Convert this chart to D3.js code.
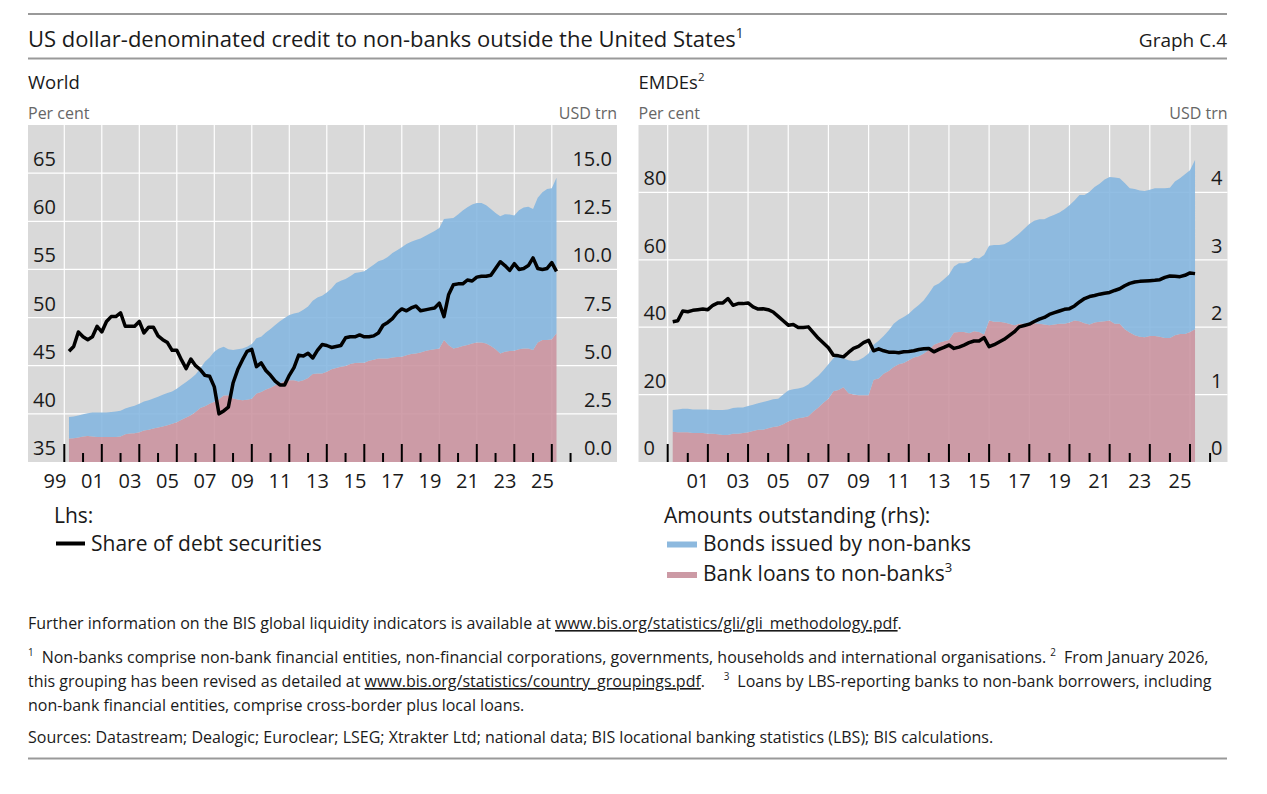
<!DOCTYPE html>
<html><head><meta charset="utf-8">
<script src="https://cdn.jsdelivr.net/npm/d3@7"></script>
<style>
body{margin:0;background:#fff}
svg{display:block}
text{font-family:"Open Sans","Noto Sans",sans-serif}
</style>
</head><body>
<svg id="chart" width="1267" height="794"></svg>
<script>
// ---------------- DATA (quarterly, first observation Q1 2000) ----------------
const firstYear = 2000;

// World: share of debt securities (per cent, lhs)
const worldShare = [46.5,47.0,48.5,48.0,47.7,48.0,49.1,48.5,49.6,50.1,50.1,50.5,49.1,49.1,49.1,49.6,
48.4,49.0,49.0,48.1,47.7,47.4,46.6,46.6,45.6,44.7,45.7,45.0,44.6,44.0,43.9,42.8,
40.0,40.3,40.7,43.2,44.6,45.6,46.5,46.7,44.9,45.3,44.5,44.0,43.4,43.0,43.0,44.0,
44.8,46.1,46.0,46.3,45.8,46.6,47.2,47.1,46.9,47.0,47.1,47.9,48.0,48.0,48.2,48.0,
48.0,48.1,48.4,49.2,49.5,49.9,50.5,50.9,50.7,51.0,51.2,50.7,50.8,50.9,51.0,51.5,
50.1,52.4,53.4,53.5,53.5,53.9,53.8,54.2,54.3,54.3,54.4,55.1,55.8,55.4,54.9,55.6,
55.0,55.1,55.4,56.2,55.1,55.0,55.1,55.7,54.8];
// World: bonds issued by non-banks (USD trn, rhs)
const worldBonds = [1.12,1.13,1.14,1.16,1.18,1.25,1.27,1.27,1.27,1.29,1.32,1.34,1.34,1.37,1.43,1.47,
1.51,1.53,1.56,1.60,1.65,1.67,1.68,1.73,1.78,1.84,1.91,1.95,2.06,2.31,2.41,2.60,
2.63,2.54,2.38,2.52,2.60,2.69,2.76,2.85,2.86,2.88,2.95,3.06,3.13,3.23,3.28,3.39,
3.46,3.58,3.65,3.71,3.80,3.94,4.03,4.11,4.20,4.41,4.46,4.52,4.55,4.67,4.70,4.74,
4.81,4.93,5.04,5.12,5.26,5.42,5.54,5.68,5.78,5.83,5.90,5.92,5.98,6.04,6.15,6.26,
6.28,6.58,6.77,6.90,7.04,7.15,7.21,7.25,7.25,7.17,7.12,7.08,7.12,7.13,7.09,7.02,
7.22,7.32,7.36,7.32,7.52,7.67,7.84,7.85,8.08];
// World: bank loans to non-banks (USD trn, rhs)
const worldLoans = [1.22,1.23,1.27,1.32,1.35,1.32,1.30,1.30,1.30,1.30,1.30,1.32,1.44,1.48,1.49,1.55,
1.63,1.68,1.74,1.79,1.84,1.91,1.98,2.07,2.20,2.31,2.43,2.60,2.80,2.90,3.02,3.13,
3.26,3.45,3.47,3.30,3.25,3.21,3.23,3.28,3.56,3.63,3.77,3.85,3.99,4.08,4.20,4.25,
4.25,4.18,4.25,4.36,4.57,4.60,4.60,4.69,4.81,4.88,4.95,4.98,5.09,5.14,5.16,5.16,
5.26,5.31,5.38,5.38,5.38,5.43,5.45,5.47,5.54,5.61,5.63,5.69,5.76,5.82,5.85,5.89,
6.34,6.06,5.90,5.95,6.02,6.08,6.16,6.20,6.20,6.16,6.02,5.85,5.64,5.73,5.76,5.78,
5.85,5.89,5.89,5.82,6.20,6.34,6.34,6.37,6.68];

// EMDEs: share of debt securities (per cent, lhs)
const emdeShare = [41.6,41.9,44.8,44.6,45.0,45.2,45.4,45.2,46.5,47.2,47.2,48.5,46.5,47.0,47.0,47.2,
46.0,45.4,45.5,45.2,44.5,43.2,41.9,40.6,40.8,39.9,39.9,40.1,38.4,36.7,35.3,33.9,
31.7,31.5,31.2,32.5,33.7,34.3,35.4,36.1,33.0,33.6,33.0,32.6,32.6,32.4,32.7,32.8,
33.0,33.4,33.6,33.7,32.7,33.4,34.0,34.7,33.7,34.1,34.7,35.4,35.9,35.9,36.9,34.2,
34.8,35.6,36.4,37.5,38.6,40.1,40.5,40.9,41.7,42.4,42.9,43.8,44.3,44.8,45.3,45.5,
46.3,47.5,48.5,49.1,49.4,49.8,50.1,50.3,50.9,51.4,52.3,53.0,53.4,53.6,53.7,53.8,
53.9,54.1,54.8,55.2,55.1,55.0,55.4,56.1,55.9];
// EMDEs: bonds issued by non-banks (USD trn, rhs)
const emdeBonds = [0.32,0.34,0.35,0.35,0.35,0.35,0.35,0.36,0.35,0.36,0.37,0.38,0.38,0.39,0.38,0.39,
0.39,0.39,0.41,0.41,0.41,0.41,0.44,0.46,0.45,0.44,0.45,0.47,0.47,0.47,0.48,0.51,
0.49,0.53,0.43,0.49,0.50,0.52,0.56,0.62,0.52,0.56,0.56,0.60,0.64,0.66,0.68,0.69,
0.72,0.76,0.79,0.84,0.87,0.88,0.92,0.97,0.98,1.02,1.02,1.06,1.09,1.09,1.18,1.11,
1.14,1.14,1.16,1.22,1.30,1.34,1.41,1.47,1.52,1.55,1.56,1.61,1.63,1.65,1.70,1.74,
1.78,1.87,1.90,1.97,2.01,2.05,2.10,2.13,2.17,2.16,2.17,2.14,2.17,2.17,2.17,2.17,
2.19,2.20,2.22,2.23,2.28,2.31,2.37,2.40,2.51];
// EMDEs: bank loans to non-banks (USD trn, rhs)
const emdeLoans = [0.45,0.44,0.44,0.44,0.43,0.43,0.43,0.42,0.42,0.41,0.40,0.40,0.42,0.42,0.43,0.44,
0.46,0.48,0.48,0.50,0.52,0.53,0.56,0.60,0.63,0.65,0.66,0.68,0.75,0.81,0.88,0.94,
1.05,1.07,1.11,1.02,1.00,0.99,0.99,0.99,1.22,1.24,1.31,1.35,1.41,1.45,1.47,1.51,
1.55,1.57,1.61,1.66,1.74,1.77,1.79,1.81,1.92,1.93,1.93,1.91,1.94,1.93,1.89,2.10,
2.08,2.08,2.07,2.05,2.03,2.05,2.05,2.06,2.06,2.05,2.04,2.03,2.04,2.05,2.05,2.07,
2.10,2.09,2.06,2.04,2.07,2.08,2.09,2.10,2.05,2.05,1.97,1.92,1.88,1.86,1.85,1.87,
1.87,1.86,1.84,1.84,1.88,1.90,1.90,1.93,1.97];

// Tick values / labels
const worldLhsTicks = [35,40,45,50,55,60,65];
const worldRhsTicks = [0,2.5,5,7.5,10,12.5,15];
const emdeLhsTicks = [0,20,40,60,80];
const emdeRhsTicks = [0,1,2,3,4];
const worldYearLabels = [1999,2001,2003,2005,2007,2009,2011,2013,2015,2017,2019,2021,2023,2025];
const emdeYearLabels = [2001,2003,2005,2007,2009,2011,2013,2015,2017,2019,2021,2023,2025];
const majorTickYears = [2000,2002,2004,2006,2008,2010,2012,2014,2016,2018,2020,2022,2024,2026];
const minorTickYears = [2001,2003,2005,2007,2009,2011,2013,2015,2017,2019,2021,2023,2025,2027];

// ---------------- STYLE ----------------
const C = {
  bg:"#d9d9d9", grid:"#ffffff", blue:"#83b5df", pink:"#ca929e",
  blueKey:"#8db9de", pinkKey:"#cc9aa5", line:"#000000", text:"#1a1a1a", unit:"#666666", rule:"#999999"
};
const svg = d3.select("#chart");

// text with optional superscript / underlined parts
function richText(sel, x, y, parts, size, attrs={}) {
  const t = sel.append("text").attr("x", x).attr("y", y).attr("font-size", size).attr("fill", attrs.fill || C.text);
  if (attrs.anchor) t.attr("text-anchor", attrs.anchor);
  let shift = 0;
  parts.forEach(p => {
    const o = typeof p === "string" ? {t:p} : p;
    const ts = t.append("tspan").text(o.t);
    if (o.sup) {
      ts.attr("font-size", size*0.62).attr("dy", -size*0.42 - shift);
      shift = -size*0.42;
    } else {
      if (shift !== 0) { ts.attr("dy", -shift); shift = 0; }
      if (o.u) ts.attr("text-decoration","underline");
    }
  });
  return t;
}

// Header
svg.append("line").attr("x1",28).attr("x2",1227).attr("y1",14).attr("y2",14).attr("stroke",C.rule).attr("stroke-width",2);
svg.append("line").attr("x1",28).attr("x2",1227).attr("y1",58.5).attr("y2",58.5).attr("stroke",C.rule).attr("stroke-width",2);
richText(svg, 28, 47, ["US dollar-denominated credit to non-banks outside the United States",{t:"1",sup:true}], 22);
richText(svg, 1227, 47, ["Graph C.4"], 19, {anchor:"end"});

// ---------------- PANELS ----------------
const yTop = 125, yBot = 462;
const panels = [
  {title:["World"], x0:28, x1:617, xr:[64.3,551.8], lhs:[35,70], rhs:[0,17.5],
   lhsTicks:worldLhsTicks, rhsTicks:worldRhsTicks, rhsFmt:d3.format(".1f"), yearLabels:worldYearLabels,
   share:worldShare, bonds:worldBonds, loans:worldLoans},
  {title:["EMDEs",{t:"2",sup:true}], x0:638.5, x1:1227.5, xr:[667.7,1190], lhs:[0,100], rhs:[0,5],
   lhsTicks:emdeLhsTicks, rhsTicks:emdeRhsTicks, rhsFmt:d3.format("d"), yearLabels:emdeYearLabels,
   share:emdeShare, bonds:emdeBonds, loans:emdeLoans}
];

panels.forEach(p => {
  const g = svg.append("g");
  richText(g, p.x0, 88.5, p.title, 18.5);
  richText(g, p.x0, 118.5, ["Per cent"], 16, {fill:C.unit});
  richText(g, p.x1, 118.5, ["USD trn"], 16, {fill:C.unit, anchor:"end"});

  const x = d3.scaleLinear().domain([2000,2026]).range(p.xr);
  const yL = d3.scaleLinear().domain(p.lhs).range([yBot,yTop]);
  const yR = d3.scaleLinear().domain(p.rhs).range([yBot,yTop]);

  g.append("rect").attr("x",p.x0).attr("y",yTop).attr("width",p.x1-p.x0).attr("height",yBot-yTop).attr("fill",C.bg);

  // gridlines
  g.selectAll(".hg").data(p.lhsTicks.filter(v => v > p.lhs[0])).join("line")
    .attr("x1",p.x0).attr("x2",p.x1).attr("y1",d=>yL(d)).attr("y2",d=>yL(d))
    .attr("stroke",C.grid).attr("stroke-width",1.2);
  g.selectAll(".vg").data(majorTickYears).join("line")
    .attr("x1",d=>x(d)).attr("x2",d=>x(d)).attr("y1",yTop).attr("y2",yBot)
    .attr("stroke",C.grid).attr("stroke-width",1.2);

  const rows = p.share.map((s,i) => ({t:firstYear + 0.25*(i+1), share:s, bonds:p.bonds[i], loans:p.loans[i]}));
  const stack = d3.stack().keys(["loans","bonds"])(rows);
  const area = d3.area().x(d=>x(d.data.t)).y0(d=>yR(d[0])).y1(d=>yR(d[1]));
  g.append("path").datum(stack[0]).attr("d",area).attr("fill",C.pink).attr("fill-opacity",0.88);
  g.append("path").datum(stack[1]).attr("d",area).attr("fill",C.blue).attr("fill-opacity",0.88);

  // x ticks
  g.selectAll(".mt").data(majorTickYears).join("line")
    .attr("x1",d=>x(d)).attr("x2",d=>x(d)).attr("y1",yBot-18).attr("y2",yBot)
    .attr("stroke","#000").attr("stroke-width",2);
  g.selectAll(".nt").data(minorTickYears).join("line")
    .attr("x1",d=>x(d)).attr("x2",d=>x(d)).attr("y1",yBot-9).attr("y2",yBot)
    .attr("stroke","#000").attr("stroke-width",2);

  // share line
  const line = d3.line().x(d=>x(d.t)).y(d=>yL(d.share));
  g.append("path").datum(rows).attr("d",line).attr("fill","none").attr("stroke",C.line)
    .attr("stroke-width",3.5).attr("stroke-linejoin","round");

  // y labels (above gridlines)
  g.selectAll(".ll").data(p.lhsTicks).join("text")
    .attr("x",p.x0+5).attr("y",d=>yL(d)-7).attr("font-size",20).attr("fill",C.text).text(d=>d);
  g.selectAll(".rl").data(p.rhsTicks).join("text")
    .attr("x",p.x1-5).attr("y",d=>yR(d)-7).attr("font-size",20).attr("fill",C.text)
    .attr("text-anchor","end").text(d=>p.rhsFmt(d));

  // x labels at mid-year
  g.selectAll(".xl").data(p.yearLabels).join("text")
    .attr("x",d=>x(d+0.5)).attr("y",488).attr("font-size",20).attr("fill",C.text)
    .attr("text-anchor","middle").text(d=>String(d).slice(2));
});

// ---------------- LEGEND ----------------
const ls = 21;
richText(svg, 54, 523, ["Lhs:"], ls);
svg.append("line").attr("x1",56).attr("x2",85).attr("y1",543.5).attr("y2",543.5).attr("stroke","#000").attr("stroke-width",4);
richText(svg, 91, 550.5, ["Share of debt securities"], ls);

richText(svg, 664, 523, ["Amounts outstanding (rhs):"], ls);
svg.append("rect").attr("x",667).attr("y",541.5).attr("width",30).attr("height",6).attr("fill",C.blueKey);
richText(svg, 703, 550.5, ["Bonds issued by non-banks"], ls);
svg.append("rect").attr("x",667).attr("y",572).attr("width",30).attr("height",6).attr("fill",C.pinkKey);
richText(svg, 703, 581, ["Bank loans to non-banks",{t:"3",sup:true}], ls);

// ---------------- FOOTNOTES ----------------
const fs = 16;
richText(svg, 28, 629, ["Further information on the BIS global liquidity indicators is available at ",{t:"www.bis.org/statistics/gli/gli_methodology.pdf",u:true},"."], fs);
richText(svg, 28, 663, [{t:"1",sup:true},"\u2002Non-banks comprise non-bank financial entities, non-financial corporations, governments, households and international organisations. ",{t:"2",sup:true},"\u2002From January 2026,"], fs);
richText(svg, 28, 687, ["this grouping has been revised as detailed at ",{t:"www.bis.org/statistics/country_groupings.pdf",u:true},".\u2003\u2009",{t:"3",sup:true},"\u2002Loans by LBS-reporting banks to non-bank borrowers, including"], fs);
richText(svg, 28, 710.5, ["non-bank financial entities, comprise cross-border plus local loans."], fs);
richText(svg, 28, 743, ["Sources: Datastream; Dealogic; Euroclear; LSEG; Xtrakter Ltd; national data; BIS locational banking statistics (LBS); BIS calculations."], fs);
svg.append("line").attr("x1",28).attr("x2",1227).attr("y1",758.5).attr("y2",758.5).attr("stroke",C.rule).attr("stroke-width",2);
</script>
</body></html>
